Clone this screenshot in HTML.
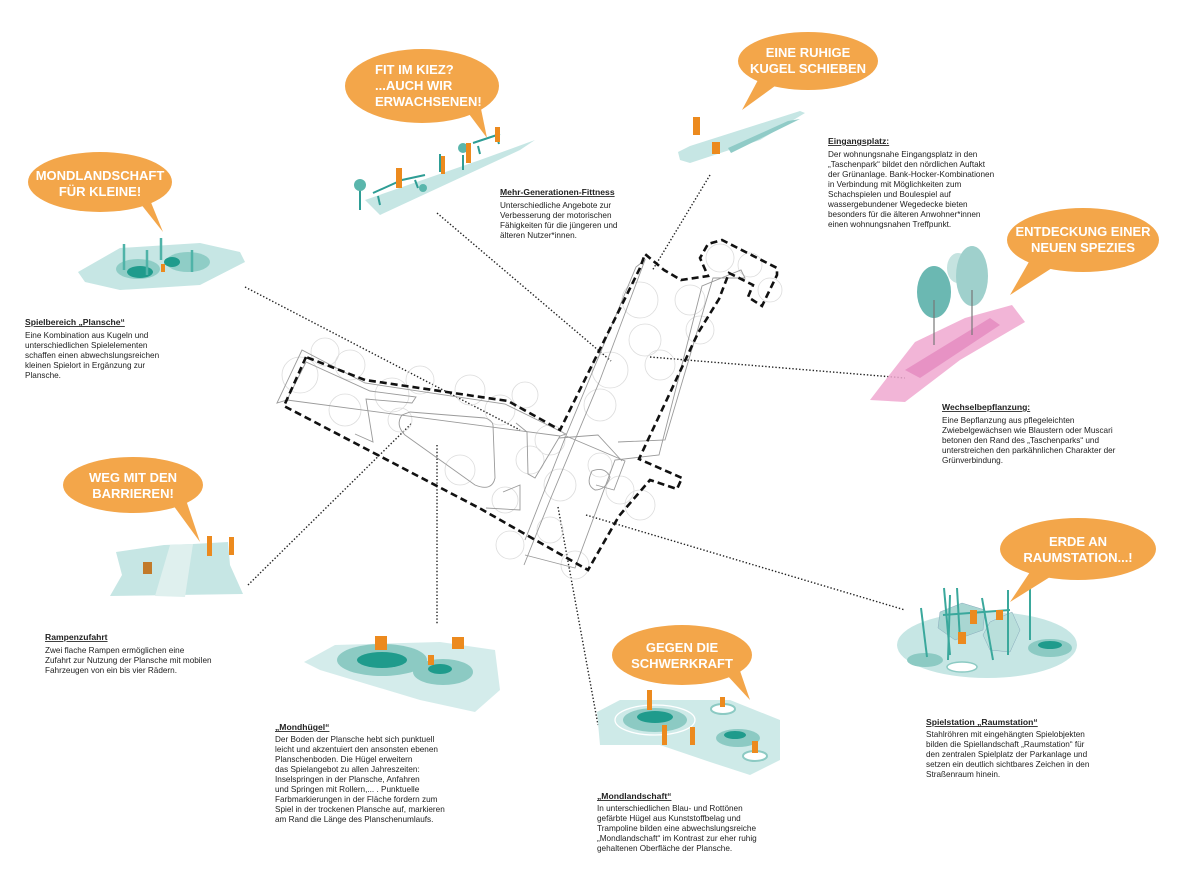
<!DOCTYPE html>
<html><head><meta charset="utf-8"><style>
html,body{margin:0;padding:0;background:#fff}
svg{display:block}
text{font-family:"Liberation Sans",Arial,sans-serif}
.b{fill:#fff;font-weight:bold;font-size:13px}
.t{font-size:8.2px;fill:#222}
.h{font-size:8.6px;font-weight:bold;fill:#222;text-decoration:underline}
.dot{stroke:#222;stroke-width:1.4;stroke-dasharray:1.4 2;fill:none}
.tree{fill:none;stroke:#dcdcdc;stroke-width:0.8}
.teal{fill:#c6e6e4}
.dk{fill:#1f9b8c}
.or{fill:#ec8a1e}
</style></head><body>
<svg width="1200" height="874" viewBox="0 0 1200 874" xmlns="http://www.w3.org/2000/svg">
<path class="dot" d="M245 287 L520 430"/>
<path class="dot" d="M437 213 L611 361"/>
<path class="dot" d="M710 175 L652 271"/>
<path class="dot" d="M650 357 L905 378"/>
<path class="dot" d="M248 585 L412 423"/>
<path class="dot" d="M437 445 L437 625"/>
<path class="dot" d="M558 507 L598 725"/>
<path class="dot" d="M586 515 L905 610"/>

<g class="tree">
<circle cx="300" cy="375" r="18"/><circle cx="325" cy="352" r="14"/><circle cx="350" cy="365" r="15"/><circle cx="392" cy="395" r="17"/><circle cx="420" cy="380" r="14"/><circle cx="345" cy="410" r="16"/><circle cx="470" cy="390" r="15"/><circle cx="500" cy="410" r="15"/><circle cx="525" cy="395" r="13"/><circle cx="550" cy="440" r="15"/><circle cx="530" cy="460" r="14"/><circle cx="560" cy="485" r="16"/><circle cx="505" cy="500" r="13"/><circle cx="600" cy="405" r="16"/><circle cx="610" cy="370" r="18"/><circle cx="640" cy="300" r="18"/><circle cx="645" cy="340" r="16"/><circle cx="690" cy="300" r="15"/><circle cx="700" cy="330" r="14"/><circle cx="660" cy="365" r="15"/><circle cx="600" cy="465" r="12"/><circle cx="620" cy="490" r="14"/><circle cx="550" cy="530" r="13"/><circle cx="720" cy="258" r="14"/><circle cx="750" cy="265" r="12"/><circle cx="770" cy="290" r="12"/><circle cx="575" cy="565" r="14"/><circle cx="640" cy="505" r="15"/><circle cx="400" cy="420" r="12"/><circle cx="460" cy="470" r="15"/><circle cx="510" cy="545" r="14"/>
</g>
<g fill="none" stroke="#9a9a9a" stroke-width="0.9">
<path d="M277 403 L302 350 L365 383 L505 404 L566 434 L560 436 L287 400 Z"/>
<path d="M288 398 L306 362 L370 391 L416 397 L412 403 L366 399 L373 442 L355 434"/>
<path d="M402 415 Q395 425 405 435 L475 485 Q492 492 495 478 L493 425 Q492 420 485 418 L410 412 Z"/>
<path d="M516 423 L527 432 L528 474 L535 478 L560 436"/>
<path d="M503 492 L520 485 L520 510 L486 508"/>
<path d="M525 540 L567 433 L636 267 L645 260 L600 380 L550 500 L524 565"/>
<path d="M566 436 L625 461 L614 490 L596 485"/>
<path d="M559 438 L598 435 L622 461"/>
<path d="M525 555 L575 568 L615 460 L659 455 L702 286 L741 270 L745 278 L713 278 L665 440 L618 442"/>
<path d="M592 471 Q585 485 595 490 Q606 490 610 477 Q605 466 592 471 Z"/>
</g>
<path d="M306 357 L284 406 L481 509 L588 570 L619 516 L650 480 L677 489 L682 478 L639 459 L698 333 L719 299 L729 273 L753 285 L748 297 L762 306 L777 275 L777 268 L722 240 L708 244 L700 258 L708 276 L681 280 L664 270 L645 254 L640 268 L560 430 L508 401 L365 380 Z" fill="none" stroke="#111" stroke-width="2.6" stroke-dasharray="7 4"/>

<path class="teal" d="M78 272 L120 248 L200 243 L240 252 L245 262 L200 285 L120 290 L85 282 Z"/>
<ellipse cx="138" cy="269" rx="22" ry="10" fill="#8fcdc6"/><ellipse cx="140" cy="272" rx="13" ry="6" class="dk"/>
<ellipse cx="188" cy="262" rx="22" ry="10" fill="#8fcdc6"/><ellipse cx="172" cy="262" rx="8" ry="5" class="dk"/>
<g stroke="#4fb3a8" stroke-width="2.5"><line x1="124" y1="244" x2="124" y2="270"/><line x1="147" y1="250" x2="147" y2="275"/><line x1="161" y1="238" x2="161" y2="260"/><line x1="192" y1="250" x2="192" y2="272"/></g>
<rect x="161" y="264" width="4" height="8" class="or"/>

<path class="teal" d="M365 200 L480 160 L535 140 L520 150 L380 215 Z"/>
<g stroke="#2e9d95" stroke-width="2" fill="none"><path d="M373 193 L402 180 L425 175 M378 196 L380 205 M415 180 L418 188"/><path d="M473 143 L500 134 M478 146 L480 154 M497 137 L499 144"/><line x1="360" y1="190" x2="360" y2="210"/><line x1="463" y1="155" x2="463" y2="170"/><line x1="440" y1="154" x2="440" y2="172"/></g>
<circle cx="360" cy="185" r="6" fill="#5ab6ac"/><circle cx="463" cy="148" r="5" fill="#5ab6ac"/><circle cx="423" cy="188" r="4" fill="#5ab6ac"/>
<rect x="396" y="168" width="6" height="20" class="or"/><rect x="441" y="156" width="4" height="18" class="or"/><rect x="466" y="143" width="5" height="20" class="or"/><rect x="495" y="127" width="5" height="15" class="or"/>

<path class="teal" d="M678 152 L690 146 L800 111 L805 113 L760 140 L690 163 L680 160 Z"/>
<path d="M731 153 L800 119 L788 121 L728 148 Z" fill="#90cbc7"/>
<rect x="693" y="117" width="7" height="18" class="or"/><rect x="712" y="142" width="8" height="12" class="or"/>

<path d="M883 383 L915 342 L965 318 L1012 305 L1025 322 L960 360 L905 402 L870 400 Z" fill="#f0a8d0" opacity="0.85"/>
<path d="M905 370 L990 318 L1000 325 L920 378 Z" fill="#e07bb8" opacity="0.6"/>
<ellipse cx="958" cy="268" rx="11" ry="15" fill="#c5e3e0"/>
<ellipse cx="934" cy="292" rx="17" ry="26" fill="#6bb8b2"/><line x1="934" y1="300" x2="934" y2="345" stroke="#777" stroke-width="1.2"/>
<ellipse cx="972" cy="276" rx="16" ry="30" fill="#9fd0cc"/><line x1="972" y1="290" x2="972" y2="335" stroke="#777" stroke-width="1.2"/>

<path class="teal" d="M116 552 L164 545 L193 544 L228 542 L230 565 L243 594 L110 596 L122 575 Z"/>
<path d="M170 545 L193 544 L185 597 L155 596 Z" fill="#dff0ee"/>
<rect x="207" y="536" width="5" height="20" class="or"/><rect x="229" y="537" width="5" height="18" class="or"/><rect x="143" y="562" width="9" height="12" fill="#c27a2a"/>

<path class="teal" d="M304 662 L335 645 L440 642 L495 650 L500 690 L475 712 L420 700 L320 670 Z" opacity="0.75"/>
<ellipse cx="382" cy="660" rx="45" ry="16" fill="#8ccac3"/><ellipse cx="382" cy="660" rx="25" ry="8" class="dk"/>
<ellipse cx="443" cy="672" rx="30" ry="13" fill="#8ccac3"/><ellipse cx="440" cy="669" rx="12" ry="5" class="dk"/>
<rect x="375" y="636" width="12" height="14" class="or"/><rect x="452" y="637" width="12" height="12" class="or"/><rect x="428" y="655" width="6" height="10" class="or"/>

<path class="teal" d="M597 712 L620 700 L730 700 L780 720 L780 760 L750 775 L710 762 L660 745 L600 745 Z" opacity="0.85"/>
<ellipse cx="655" cy="720" rx="40" ry="15" fill="none" stroke="#fff" stroke-width="1.3"/>
<ellipse cx="655" cy="720" rx="32" ry="12" fill="#8ccac3"/><ellipse cx="655" cy="717" rx="18" ry="6" class="dk"/>
<ellipse cx="738" cy="738" rx="22" ry="9" fill="#8ccac3"/><ellipse cx="735" cy="735" rx="11" ry="4" class="dk"/>
<ellipse cx="723" cy="709" rx="12" ry="5" fill="#fff" stroke="#8ccac3" stroke-width="2"/><ellipse cx="755" cy="756" rx="12" ry="5" fill="#fff" stroke="#8ccac3" stroke-width="2"/>
<rect x="647" y="690" width="5" height="20" class="or"/><rect x="662" y="725" width="5" height="20" class="or"/><rect x="690" y="727" width="5" height="18" class="or"/><rect x="720" y="697" width="5" height="10" class="or"/><rect x="752" y="741" width="6" height="12" class="or"/>

<ellipse cx="987" cy="645" rx="90" ry="33" class="teal"/>
<ellipse cx="1050" cy="648" rx="22" ry="9" fill="#8ccac3"/><ellipse cx="1050" cy="645" rx="12" ry="4" class="dk"/>
<ellipse cx="925" cy="660" rx="18" ry="7" fill="#8ccac3"/><ellipse cx="962" cy="667" rx="15" ry="5" fill="#fff" stroke="#8ccac3" stroke-width="1.5"/>
<path d="M940 612 L962 603 L985 610 L983 630 L955 640 L938 628 Z" fill="#a9d6d2" stroke="#8ab" stroke-width="0.5"/>
<path d="M990 622 L1012 612 L1020 630 L1010 652 L990 650 L983 635 Z" fill="#b9dfdb" stroke="#8ab" stroke-width="0.5"/>
<g stroke="#3aa89c" stroke-width="2"><line x1="921" y1="608" x2="927" y2="657"/><line x1="944" y1="588" x2="950" y2="655"/><line x1="950" y1="595" x2="948" y2="660"/><line x1="957" y1="588" x2="960" y2="640"/><line x1="982" y1="598" x2="993" y2="660"/><line x1="1008" y1="590" x2="1008" y2="655"/><line x1="1030" y1="588" x2="1030" y2="640"/><line x1="943" y1="615" x2="1010" y2="610"/></g>
<rect x="970" y="610" width="7" height="14" class="or"/><rect x="996" y="610" width="7" height="10" class="or"/><rect x="958" y="632" width="8" height="12" class="or"/>

<g fill="#f3a64a">
<ellipse cx="100" cy="182" rx="72" ry="30"/><path d="M140 203 L163 232 L150 200 Z"/>
<ellipse cx="422" cy="86" rx="77" ry="37"/><path d="M466 110 L487 138 L480 104 Z"/>
<ellipse cx="808" cy="61" rx="70" ry="29"/><path d="M758 80 L742 110 L775 86 Z"/>
<ellipse cx="1083" cy="240" rx="76" ry="32"/><path d="M1030 260 L1010 295 L1052 268 Z"/>
<ellipse cx="133" cy="485" rx="70" ry="28"/><path d="M173 505 L200 542 L186 500 Z"/>
<ellipse cx="682" cy="655" rx="70" ry="30"/><path d="M725 673 L750 700 L738 665 Z"/>
<ellipse cx="1078" cy="549" rx="78" ry="31"/><path d="M1030 572 L1010 602 L1050 577 Z"/>
</g>
<g class="b" text-anchor="middle">
<text x="100" y="180">MONDLANDSCHAFT</text><text x="100" y="196">FÜR KLEINE!</text>
<text x="808" y="57">EINE RUHIGE</text><text x="808" y="73">KUGEL SCHIEBEN</text>
<text x="1083" y="236">ENTDECKUNG EINER</text><text x="1083" y="252">NEUEN SPEZIES</text>
<text x="133" y="482">WEG MIT DEN</text><text x="133" y="498">BARRIEREN!</text>
<text x="682" y="652">GEGEN DIE</text><text x="682" y="668">SCHWERKRAFT</text>
<text x="1078" y="546">ERDE AN</text><text x="1078" y="562">RAUMSTATION...!</text>
</g>
<g class="b"><text x="375" y="74">FIT IM KIEZ?</text><text x="375" y="90">...AUCH WIR</text><text x="375" y="106">ERWACHSENEN!</text></g>

<text class="h" x="25" y="325">Spielbereich „Plansche“</text>
<g class="t"><text x="25" y="338">Eine Kombination aus Kugeln und</text><text x="25" y="348">unterschiedlichen Spielelementen</text><text x="25" y="358">schaffen einen abwechslungsreichen</text><text x="25" y="368">kleinen Spielort in Ergänzung zur</text><text x="25" y="378">Plansche.</text></g>

<text class="h" x="500" y="195">Mehr-Generationen-Fittness</text>
<g class="t"><text x="500" y="208">Unterschiedliche Angebote zur</text><text x="500" y="218">Verbesserung der motorischen</text><text x="500" y="228">Fähigkeiten für die jüngeren und</text><text x="500" y="238">älteren Nutzer*innen.</text></g>

<text class="h" x="828" y="144">Eingangsplatz:</text>
<g class="t"><text x="828" y="157">Der wohnungsnahe Eingangsplatz in den</text><text x="828" y="167">„Taschenpark“ bildet den nördlichen Auftakt</text><text x="828" y="177">der Grünanlage. Bank-Hocker-Kombinationen</text><text x="828" y="187">in Verbindung mit Möglichkeiten zum</text><text x="828" y="197">Schachspielen und Boulespiel auf</text><text x="828" y="207">wassergebundener Wegedecke bieten</text><text x="828" y="217">besonders für die älteren Anwohner*innen</text><text x="828" y="227">einen wohnungsnahen Treffpunkt.</text></g>

<text class="h" x="942" y="410">Wechselbepflanzung:</text>
<g class="t"><text x="942" y="423">Eine Bepflanzung aus pflegeleichten</text><text x="942" y="433">Zwiebelgewächsen wie  Blaustern oder Muscari</text><text x="942" y="443">betonen den Rand des „Taschenparks“ und</text><text x="942" y="453">unterstreichen den parkähnlichen Charakter der</text><text x="942" y="463">Grünverbindung.</text></g>

<text class="h" x="45" y="640">Rampenzufahrt</text>
<g class="t"><text x="45" y="653">Zwei flache Rampen ermöglichen eine</text><text x="45" y="663">Zufahrt zur Nutzung der Plansche mit mobilen</text><text x="45" y="673">Fahrzeugen von ein bis vier Rädern.</text></g>

<text class="h" x="275" y="730">„Mondhügel“</text>
<g class="t"><text x="275" y="742">Der Boden der Plansche hebt sich punktuell</text><text x="275" y="752">leicht und akzentuiert den ansonsten ebenen</text><text x="275" y="762">Planschenboden. Die Hügel erweitern</text><text x="275" y="772">das Spielangebot zu allen Jahreszeiten:</text><text x="275" y="782">Inselspringen in der Plansche, Anfahren</text><text x="275" y="792">und Springen mit Rollern,... . Punktuelle</text><text x="275" y="802">Farbmarkierungen in der Fläche fordern zum</text><text x="275" y="812">Spiel in der trockenen Plansche auf, markieren</text><text x="275" y="822">am Rand die Länge des Planschenumlaufs.</text></g>

<text class="h" x="597" y="799">„Mondlandschaft“</text>
<g class="t"><text x="597" y="811">In unterschiedlichen Blau- und Rottönen</text><text x="597" y="821">gefärbte Hügel aus Kunststoffbelag und</text><text x="597" y="831">Trampoline bilden eine abwechslungsreiche</text><text x="597" y="841">„Mondlandschaft“ im Kontrast zur eher ruhig</text><text x="597" y="851">gehaltenen Oberfläche der Plansche.</text></g>

<text class="h" x="926" y="725">Spielstation „Raumstation“</text>
<g class="t"><text x="926" y="737">Stahlröhren mit eingehängten Spielobjekten</text><text x="926" y="747">bilden die Spiellandschaft „Raumstation“ für</text><text x="926" y="757">den zentralen Spielplatz der Parkanlage und</text><text x="926" y="767">setzen ein deutlich sichtbares Zeichen in den</text><text x="926" y="777">Straßenraum hinein.</text></g>
</svg>
</body></html>
